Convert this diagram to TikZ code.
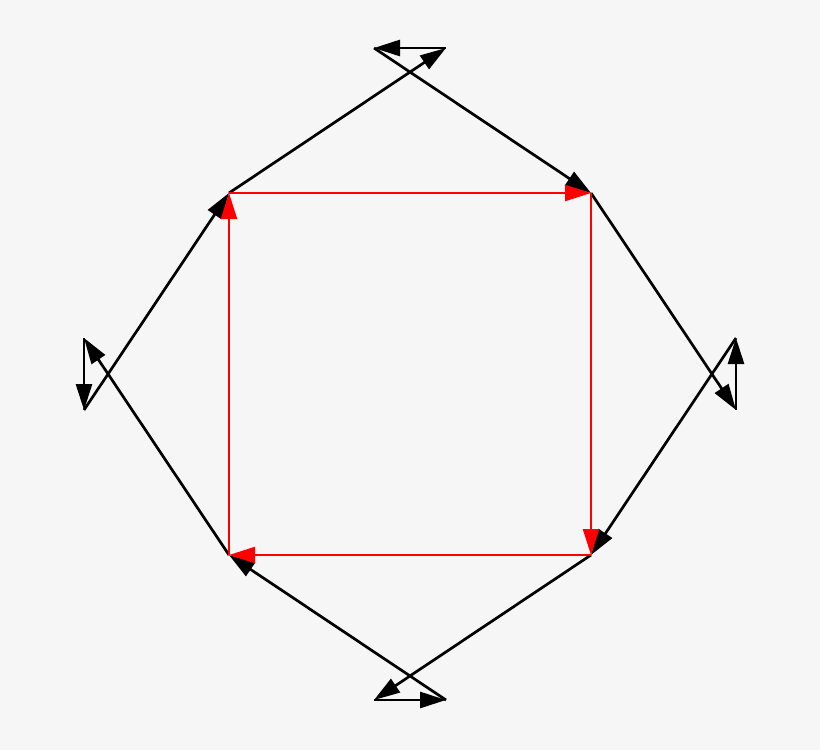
\documentclass[tikz,border=0pt]{standalone}
\usetikzlibrary{arrows.meta}
\definecolor{bg}{HTML}{F6F6F6}
\begin{document}
\begin{tikzpicture}[x=1pt,y=-1pt,
  blk/.style={draw=black,line width=2.7pt,-{Triangle[length=26pt,width=16pt]}},
  red/.style={draw=red,line width=2.2pt,-{Triangle[length=26pt,width=16pt]}}]
\fill[bg] (0,0) rectangle (820,750);
\useasboundingbox (0,0) rectangle (820,750);
\coordinate (A) at (229,193);
\coordinate (B) at (591,193);
\coordinate (C) at (591,555);
\coordinate (D) at (229,555);
\coordinate (T1) at (374,48);
\coordinate (T2) at (446,48);
\coordinate (R1) at (736,338);
\coordinate (R2) at (736,410);
\coordinate (B1) at (374,700);
\coordinate (B2) at (446,700);
\coordinate (L1) at (84,338);
\coordinate (L2) at (84,410);
\draw[blk] (A) -- (T2);
\draw[blk] (T2) -- (T1);
\draw[blk] (T1) -- (B);
\draw[blk] (B) -- (R2);
\draw[blk] (R2) -- (R1);
\draw[blk] (R1) -- (C);
\draw[blk] (C) -- (B1);
\draw[blk] (B1) -- (B2);
\draw[blk] (B2) -- (D);
\draw[blk] (D) -- (L1);
\draw[blk] (L1) -- (L2);
\draw[blk] (L2) -- (A);
\draw[red] (A) -- (B);
\draw[red] (B) -- (C);
\draw[red] (C) -- (D);
\draw[red] (D) -- (A);
\end{tikzpicture}
\end{document}
